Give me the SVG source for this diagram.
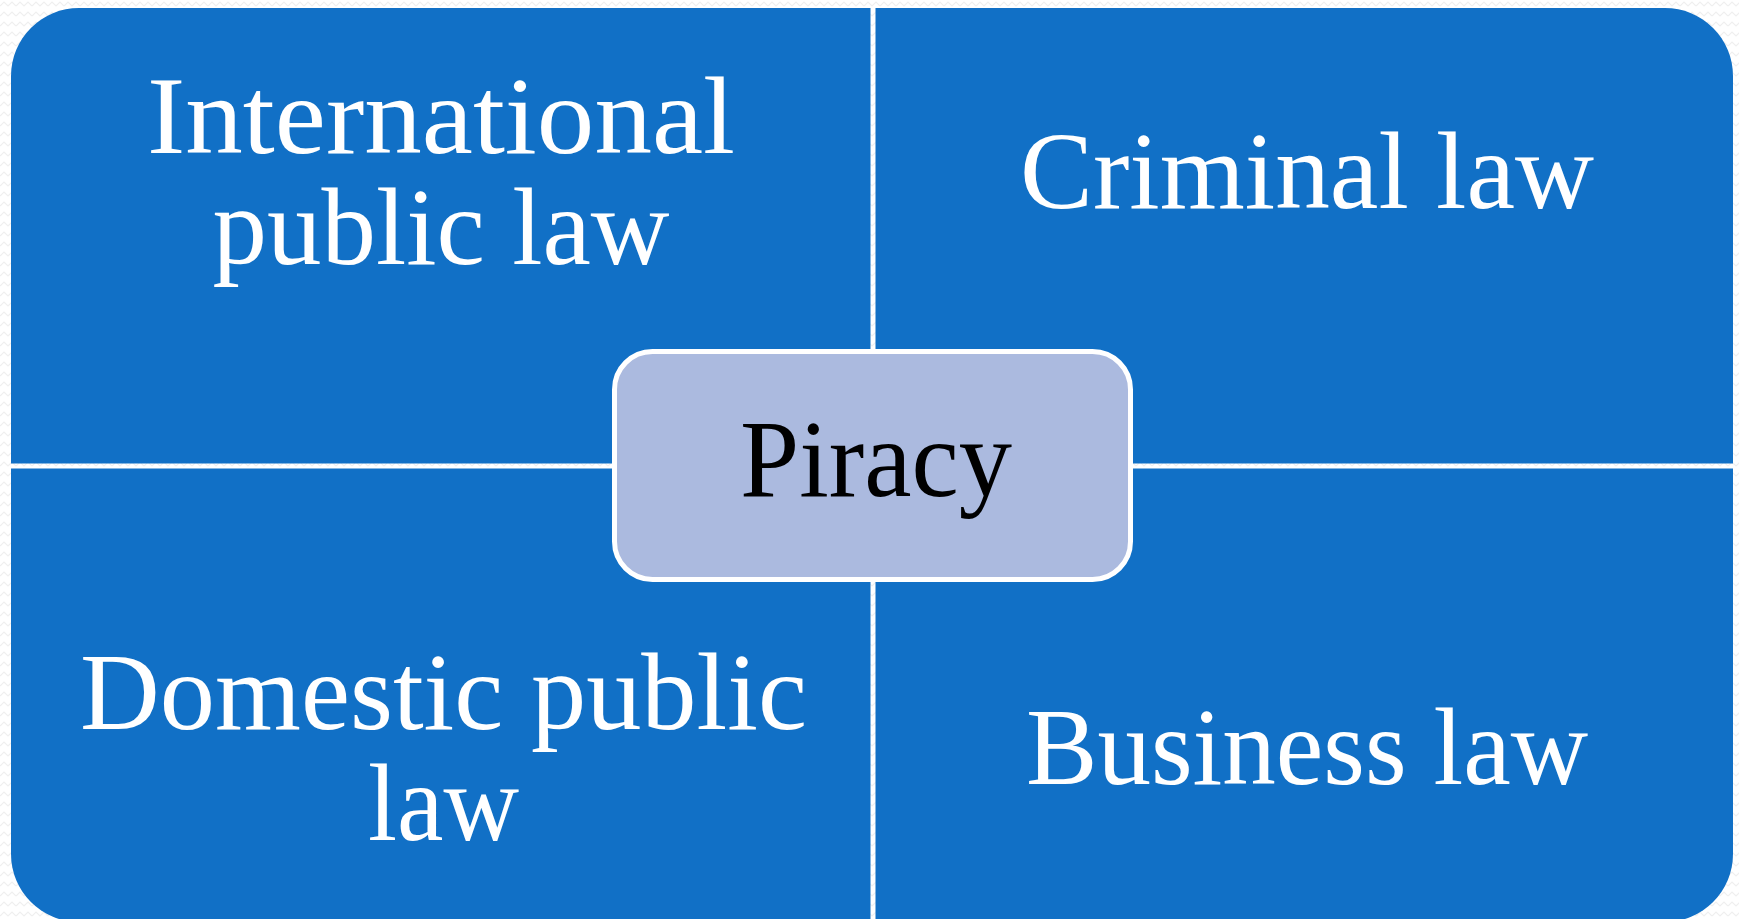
<svg xmlns="http://www.w3.org/2000/svg" width="1739" height="919" viewBox="0 0 1739 919">
<defs>
<pattern id="zz" width="16" height="10" patternUnits="userSpaceOnUse">
<polyline points="0,6 4,2 8,6 12,2 16,6" fill="none" stroke="#efefef" stroke-width="1.2"/>
</pattern>
</defs>
<style>
.q{fill:#1170C6;}
.t{font-family:"Liberation Serif","Times New Roman",serif;font-size:110px;fill:#FFFFFF;text-anchor:middle;}
.c{fill:#ABBADF;stroke:#FFFFFF;stroke-width:5;}
.ct{font-family:"Liberation Serif","Times New Roman",serif;font-size:110px;fill:#000000;text-anchor:middle;}
</style>
<rect x="0" y="0" width="1739" height="919" fill="#FFFFFF"/>
<rect x="0" y="0" width="1739" height="919" fill="url(#zz)"/>
<g id="connectors"></g>
<g id="node-international">
<path class="q" d="M11,76 A68,68 0 0 1 79,8 L870.5,8 L870.5,463.5 L11,463.5 Z"/>
<text class="t" x="441" y="153" textLength="588" lengthAdjust="spacingAndGlyphs">International</text>
<text class="t" x="441" y="264" textLength="457" lengthAdjust="spacingAndGlyphs">public law</text>
</g>
<g id="node-criminal">
<path class="q" d="M875.5,8 L1665,8 A68,68 0 0 1 1733,76 L1733,463.5 L875.5,463.5 Z"/>
<text class="t" x="1307" y="208" textLength="574" lengthAdjust="spacingAndGlyphs">Criminal law</text>
</g>
<g id="node-domestic">
<path class="q" d="M11,468.5 L870.5,468.5 L870.5,922 L79,922 A68,68 0 0 1 11,854 Z"/>
<text class="t" x="443.5" y="729" textLength="727" lengthAdjust="spacingAndGlyphs">Domestic public</text>
<text class="t" x="443.5" y="840" textLength="151" lengthAdjust="spacingAndGlyphs">law</text>
</g>
<g id="node-business">
<path class="q" d="M875.5,468.5 L1733,468.5 L1733,854 A68,68 0 0 1 1665,922 L875.5,922 Z"/>
<text class="t" x="1307" y="784" textLength="562" lengthAdjust="spacingAndGlyphs">Business law</text>
</g>
<g id="node-piracy">
<rect class="c" x="614.5" y="351.5" width="516" height="228" rx="38" ry="38"/>
<text class="ct" x="876" y="496" textLength="272" lengthAdjust="spacingAndGlyphs">Piracy</text>
</g>
</svg>
